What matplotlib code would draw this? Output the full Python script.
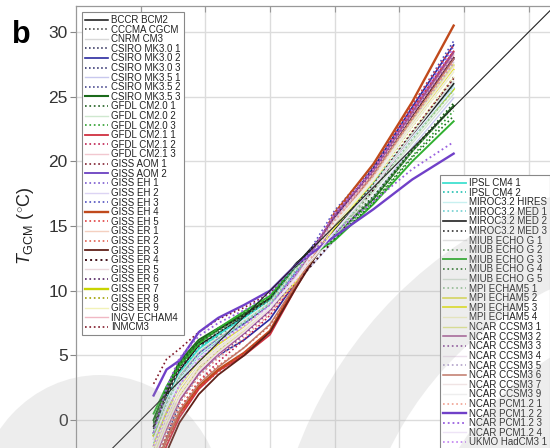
import matplotlib
matplotlib.use('Agg')
import matplotlib.pyplot as plt
from matplotlib import patches, transforms

plt.rcParams['font.family'] = ['Liberation Sans', 'DejaVu Sans']
plt.rcParams['mathtext.fontset'] = 'custom'
plt.rcParams['mathtext.rm'] = 'Liberation Sans'
plt.rcParams['mathtext.it'] = 'Liberation Sans:italic'

# observed temperature quantiles (shared x for every model curve)
t_obs = [1, 2, 3, 4.5, 6, 8, 10, 12, 15, 18, 21, 24.2]

# ---- models listed in the left legend
names_a = ['BCCR BCM2', 'CCCMA CGCM', 'CNRM CM3', 'CSIRO MK3.0 1', 'CSIRO MK3.0 2',
           'CSIRO MK3.0 3', 'CSIRO MK3.5 1', 'CSIRO MK3.5 2', 'CSIRO MK3.5 3',
           'GFDL CM2.0 1', 'GFDL CM2.0 2', 'GFDL CM2.0 3', 'GFDL CM2.1 1',
           'GFDL CM2.1 2', 'GFDL CM2.1 3', 'GISS AOM 1', 'GISS AOM 2', 'GISS EH 1',
           'GISS EH 2', 'GISS EH 3', 'GISS EH 4', 'GISS EH 5', 'GISS ER 1',
           'GISS ER 2', 'GISS ER 3', 'GISS ER 4', 'GISS ER 5', 'GISS ER 6',
           'GISS ER 7', 'GISS ER 8', 'GISS ER 9', 'INGV ECHAM4', 'INMCM3']
colors_a = ['#111111', '#333333', '#d8d8d8', '#202050', '#2a2aa0',
            '#1c1c60', '#c8c8ee', '#303080', '#1a6a1a',
            '#1f5f1f', '#cfe8cf', '#2e9e2e', '#d03040',
            '#c02050', '#f2c8d0', '#802030', '#6a40c0', '#7a5ad0',
            '#dcd4f4', '#5050c0', '#c04a1c', '#e04040', '#f4d0c0',
            '#e06050', '#602018', '#401018', '#ecd8dc', '#502060',
            '#c8d400', '#a0a000', '#f2f2b8', '#f0b8c4', '#801828']
styles_a = ['-', ':', '-', ':', '-', ':', '-', ':', '-', ':', '-', ':', '-', ':', '-', ':',
            '-', ':', '-', ':', '-', ':', '-', ':', '-', ':', '-', ':', '-', ':', '-', '-', ':']
widths_a = [1.1, 1.1, 1.0, 1.1, 1.2, 1.1, 1.0, 1.1, 1.5, 1.2, 1.0, 1.2, 1.3,
            1.2, 1.0, 1.2, 1.3, 1.2, 1.0, 1.2, 1.7, 1.2, 1.0, 1.2, 1.3, 1.4,
            1.0, 1.2, 1.7, 1.2, 1.0, 1.0, 1.2]
tgcm_a = [
    [-1.0, 1.5, 3.8, 5.8, 6.7, 8.0, 9.4, 12.0, 15.3, 19.1, 23.4, 28.0],
    [-2.5, 0.0, 2.3, 4.4, 5.6, 6.8, 8.6, 11.1, 15.6, 19.3, 24.0, 28.5],
    [-3.5, -0.5, 1.8, 4.0, 5.5, 7.3, 8.8, 10.8, 14.3, 18.0, 21.9, 25.7],
    [-0.5, 1.7, 3.3, 5.0, 6.1, 7.4, 9.1, 11.9, 15.2, 18.5, 22.9, 27.5],
    [-3.0, -0.7, 1.5, 3.6, 5.0, 6.2, 7.8, 10.7, 15.6, 19.5, 24.2, 29.0],
    [-1.5, 0.8, 2.9, 4.7, 5.8, 7.2, 9.0, 11.6, 15.2, 18.8, 23.1, 27.7],
    [-2.0, 0.5, 2.7, 4.8, 6.0, 7.3, 8.6, 10.6, 13.9, 17.3, 21.1, 24.9],
    [-4.0, -1.3, 1.3, 3.6, 5.1, 6.7, 8.6, 11.0, 15.9, 19.5, 23.8, 28.3],
    [0.0, 2.5, 4.5, 6.2, 7.1, 8.2, 9.4, 11.8, 14.3, 17.1, 20.8, 24.3],
    [-0.5, 2.3, 4.3, 6.0, 7.0, 8.3, 9.5, 11.8, 14.5, 17.3, 20.9, 24.5],
    [-1.5, 1.0, 3.3, 5.2, 6.3, 7.6, 9.0, 11.5, 14.5, 17.8, 21.6, 25.5],
    [-0.3, 2.4, 4.4, 6.1, 6.9, 8.1, 9.3, 11.9, 14.2, 16.9, 20.4, 23.9],
    [-4.5, -2.0, 0.2, 2.4, 3.8, 5.0, 6.6, 10.2, 15.3, 19.0, 24.0, 28.5],
    [-3.5, -1.3, 0.8, 3.0, 4.5, 6.2, 8.1, 10.6, 15.8, 19.5, 24.0, 28.5],
    [-3.0, -0.5, 1.5, 3.6, 5.0, 6.7, 8.4, 10.8, 15.3, 18.7, 23.0, 27.3],
    [-2.5, -0.3, 1.7, 3.7, 5.2, 6.8, 8.6, 11.0, 15.6, 19.1, 23.6, 28.3],
    [-1.0, 1.5, 3.5, 5.2, 6.3, 7.5, 8.9, 11.5, 15.0, 18.5, 23.0, 27.9],
    [-2.0, 0.5, 2.8, 5.0, 6.1, 7.4, 8.9, 11.3, 15.8, 19.3, 23.9, 28.9],
    [-2.5, 0.0, 2.3, 4.5, 5.7, 7.1, 8.8, 11.1, 15.5, 19.1, 23.6, 28.3],
    [-1.5, 0.9, 3.1, 5.1, 6.2, 7.5, 9.0, 11.4, 16.2, 19.6, 24.3, 29.3],
    [-4.0, -1.5, 0.5, 2.6, 3.9, 5.2, 6.9, 10.5, 16.0, 19.8, 24.6, 30.5],
    [-4.3, -1.7, 0.4, 2.5, 3.7, 5.2, 6.8, 10.3, 15.4, 19.4, 24.4, 29.0],
    [-3.3, -0.7, 1.5, 3.7, 5.1, 6.7, 8.5, 10.9, 15.2, 18.8, 23.2, 27.5],
    [-3.7, -1.1, 0.9, 3.0, 4.2, 5.6, 7.3, 10.4, 15.1, 19.2, 23.9, 28.4],
    [-5.0, -2.5, -0.2, 2.0, 3.5, 5.0, 6.8, 10.2, 15.0, 18.9, 23.4, 28.0],
    [-1.0, 1.7, 4.1, 5.7, 6.5, 7.5, 8.8, 10.6, 14.0, 17.8, 22.1, 26.5],
    [-2.7, -0.3, 1.9, 4.0, 5.4, 7.0, 8.7, 11.0, 15.0, 18.6, 22.8, 27.1],
    [-3.0, -0.5, 1.8, 3.9, 5.3, 6.9, 8.7, 11.2, 15.8, 19.3, 23.7, 28.1],
    [-1.2, 0.8, 2.3, 4.2, 5.8, 7.2, 8.7, 10.9, 14.8, 18.2, 22.0, 25.6],
    [-2.0, 0.5, 2.6, 4.5, 5.7, 7.1, 8.6, 10.9, 15.0, 18.4, 22.7, 27.0],
    [-2.3, 0.2, 2.3, 4.3, 5.6, 7.0, 8.6, 10.8, 14.6, 18.1, 22.3, 26.5],
    [-2.8, -0.4, 1.7, 3.8, 5.2, 6.8, 8.6, 11.1, 15.5, 19.2, 23.7, 28.2],
    [2.8, 4.7, 5.5, 6.8, 7.8, 8.7, 9.8, 12.0, 15.0, 18.2, 22.3, 26.4],
]

# ---- models listed in the right legend
names_b = ['IPSL CM4 1', 'IPSL CM4 2', 'MIROC3.2 HIRES', 'MIROC3.2 MED 1',
           'MIROC3.2 MED 2', 'MIROC3.2 MED 3', 'MIUB ECHO G 1', 'MIUB ECHO G 2',
           'MIUB ECHO G 3', 'MIUB ECHO G 4', 'MIUB ECHO G 5', 'MPI ECHAM5 1',
           'MPI ECHAM5 2', 'MPI ECHAM5 3', 'MPI ECHAM5 4', 'NCAR CCSM3 1',
           'NCAR CCSM3 2', 'NCAR CCSM3 3', 'NCAR CCSM3 4', 'NCAR CCSM3 5',
           'NCAR CCSM3 6', 'NCAR CCSM3 7', 'NCAR CCSM3 9', 'NCAR PCM1.2 1',
           'NCAR PCM1.2 2', 'NCAR PCM1.2 3', 'NCAR PCM1.2 4', 'UKMO HadCM3 1']
colors_b = ['#40e0d0', '#20c0b0', '#c8f0f0', '#70d0d0', '#202020', '#303030',
            '#e0e0e0', '#70a070', '#30b030', '#207020', '#d4e2d4', '#90c090',
            '#e0e050', '#e8e820', '#f2f2c4', '#e2e890', '#a05090', '#8a4a9a',
            '#ece0ec', '#b0a0c8', '#c07868', '#f0e4e4', '#eeeeee', '#f0a090',
            '#7040c8', '#9a60e0', '#eee4f6', '#c080f0']
styles_b = ['-', ':', '-', ':', '-', ':', '-', ':', '-', ':', '-', ':', '-', '-',
            '-', '-', '-', ':', '-', ':', '-', '-', '-', ':', '-', ':', '-', ':']
widths_b = [1.3, 1.2, 1.0, 1.2, 1.2, 1.2, 1.0, 1.2, 1.4, 1.2, 1.0, 1.2, 1.2, 1.3,
            1.0, 1.0, 1.1, 1.2, 1.0, 1.2, 1.1, 1.0, 1.0, 1.2, 1.7, 1.3, 1.0, 1.2]
tgcm_b = [
    [-1.0, 1.5, 3.6, 5.5, 6.6, 7.9, 9.3, 12.0, 14.6, 18.1, 21.9, 25.7],
    [-0.7, 1.7, 3.7, 5.6, 6.7, 8.0, 9.4, 12.1, 14.8, 18.3, 22.1, 26.0],
    [-1.5, 1.0, 3.1, 5.0, 6.2, 7.6, 9.0, 11.6, 14.7, 18.2, 22.1, 26.1],
    [-1.8, 0.7, 2.9, 4.9, 6.1, 7.5, 9.0, 11.5, 14.4, 18.1, 22.0, 25.9],
    [-0.5, 2.1, 4.2, 6.0, 7.0, 8.1, 9.4, 12.1, 14.7, 18.0, 22.0, 26.0],
    [-0.7, 1.9, 4.0, 5.8, 6.8, 8.0, 9.3, 12.0, 14.9, 18.2, 22.2, 26.2],
    [-2.0, 0.5, 2.6, 4.6, 5.8, 7.2, 8.7, 10.8, 14.5, 18.1, 22.1, 26.2],
    [-0.3, 2.3, 4.2, 5.9, 6.9, 8.1, 9.3, 11.8, 14.1, 17.2, 20.8, 24.2],
    [0.5, 2.6, 4.2, 5.9, 7.1, 8.4, 9.6, 12.0, 13.9, 16.7, 20.0, 23.1],
    [-0.2, 2.5, 4.3, 6.0, 7.0, 8.2, 9.4, 11.9, 14.0, 16.8, 20.3, 23.5],
    [-1.0, 1.5, 3.5, 5.3, 6.4, 7.7, 9.1, 11.7, 14.2, 17.6, 21.4, 25.2],
    [-1.2, 1.3, 3.3, 5.2, 6.3, 7.6, 9.0, 11.6, 14.3, 17.8, 21.7, 25.5],
    [-2.3, 0.3, 2.3, 4.4, 5.8, 7.2, 8.7, 10.8, 15.2, 18.7, 23.0, 27.4],
    [-2.0, 0.5, 2.4, 4.5, 5.8, 7.2, 8.6, 10.7, 14.9, 18.5, 22.8, 27.1],
    [-2.5, 0.0, 2.0, 4.2, 5.5, 7.0, 8.6, 10.8, 15.0, 18.5, 22.7, 26.9],
    [-2.7, -0.3, 1.8, 3.9, 5.3, 6.9, 8.6, 10.9, 15.4, 18.8, 23.1, 27.5],
    [-3.3, -0.7, 1.5, 3.6, 5.1, 6.7, 8.5, 11.0, 15.9, 19.3, 23.8, 28.4],
    [-3.5, -1.0, 1.3, 3.4, 4.9, 6.6, 8.4, 10.9, 15.7, 19.2, 23.6, 28.1],
    [-3.0, -0.5, 1.7, 3.8, 5.2, 6.8, 8.6, 11.0, 15.4, 18.9, 23.3, 27.7],
    [-2.3, 0.1, 2.3, 4.4, 5.7, 7.1, 8.7, 11.1, 15.5, 18.9, 23.2, 27.6],
    [-4.0, -1.5, 0.7, 2.8, 4.1, 5.6, 7.4, 10.5, 15.2, 19.0, 23.3, 27.9],
    [-2.5, -0.1, 2.1, 4.2, 5.5, 7.0, 8.7, 11.0, 15.3, 18.7, 23.0, 27.3],
    [-2.1, 0.3, 2.4, 4.4, 5.7, 7.1, 8.7, 10.9, 15.2, 18.6, 22.8, 27.0],
    [-3.5, -0.9, 1.3, 3.4, 4.8, 6.4, 8.2, 10.7, 15.4, 18.9, 23.3, 27.7],
    [1.9, 3.9, 4.6, 6.8, 7.9, 8.9, 10.0, 12.0, 14.2, 16.3, 18.6, 20.6],
    [-1.0, 2.5, 4.8, 6.5, 7.5, 8.5, 9.8, 12.0, 14.5, 16.9, 19.4, 21.5],
    [-1.5, 0.9, 2.9, 4.8, 6.0, 7.3, 8.8, 10.9, 14.6, 18.0, 21.9, 25.7],
    [-2.0, 0.5, 2.7, 4.7, 5.9, 7.3, 8.9, 11.3, 16.0, 19.4, 24.0, 28.7],
]

y_ticks = [0, 5, 10, 15, 20, 25, 30]
x_ticks = [0, 5, 10, 15, 20, 25, 30]

fig = plt.figure(figsize=(5.5, 4.48), dpi=100)
# axes run past the right and bottom edges (the figure is a crop)
ax = fig.add_axes([76 / 550, -36.7 / 448, 478.5 / 550, 478.5 / 448])
ax.set_xlim(-5, 32)
ax.set_ylim(-5, 32)
ax.set_xticks(x_ticks)
ax.set_yticks(y_ticks)
ax.grid(True, color='#dcdcdc', lw=1.0)
ax.set_axisbelow(True)
ax.tick_params(axis='y', direction='out', length=4, color='#888888',
               labelsize=12.5, labelcolor='#333333', pad=2)
ax.tick_params(axis='x', top=True, bottom=False, direction='in', length=4,
               color='#999999', labelbottom=False)
for sp in ax.spines.values():
    sp.set_color('#999999')
    sp.set_linewidth(0.9)

lines_a = []
for n, c, s, w, y in zip(names_a, colors_a, styles_a, widths_a, tgcm_a):
    lines_a += ax.plot(t_obs, y, color=c, ls=s, lw=w, label=n)
lines_b = []
for n, c, s, w, y in zip(names_b, colors_b, styles_b, widths_b, tgcm_b):
    lines_b += ax.plot(t_obs, y, color=c, ls=s, lw=w, label=n)

ax.axline((0, 0), slope=1, color='#222222', lw=0.8, zorder=5)

leg_kw = dict(fontsize=7, labelspacing=-0.04, handlelength=2.4, handletextpad=0.3,
              borderpad=0.3, borderaxespad=0, fancybox=False, framealpha=1,
              edgecolor='#888888', labelcolor='#222222', loc='upper left',
              bbox_transform=fig.transFigure)
leg1 = ax.legend(handles=lines_a, bbox_to_anchor=(82 / 550, 1 - 12 / 448), **leg_kw)
leg1.get_frame().set_linewidth(0.8)
ax.add_artist(leg1)
leg2 = ax.legend(handles=lines_b, bbox_to_anchor=(440 / 550, 1 - 175 / 448), **leg_kw)
leg2.get_frame().set_linewidth(0.8)

fig.text(25 / 550, 1 - 226 / 448, r'$T_{\mathrm{GCM}}$ ($^{\circ}$C)', rotation=90,
         ha='center', va='center', fontsize=13, color='#222222')
fig.text(12 / 550, 1 - 43 / 448, 'b', fontsize=22, fontweight='bold', va='baseline')

# light grey watermark arcs laid over the crop (pixel coords, y down)
px = transforms.Affine2D().scale(1 / 550, -1 / 448).translate(0, 1) + fig.transFigure
wm = dict(facecolor='#a8a8a8', edgecolor='none', alpha=0.2, transform=px, zorder=20)
fig.add_artist(patches.Ellipse((100, 510), 250, 270, **wm))
fig.add_artist(patches.Wedge((700, 600), 430, 180, 270, width=85, **wm))
fig.add_artist(patches.Wedge((700, 600), 285, 180, 270, width=80, **wm))

fig.savefig('out.png', dpi=100)
